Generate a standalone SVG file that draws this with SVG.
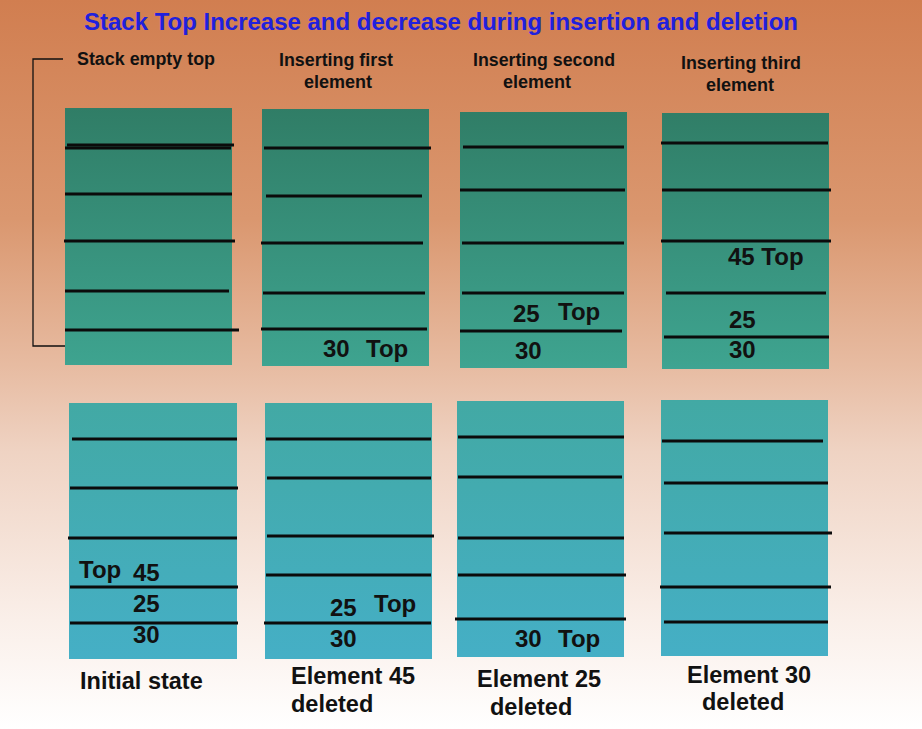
<svg xmlns="http://www.w3.org/2000/svg" width="922" height="729" viewBox="0 0 922 729">
<defs>
<linearGradient id="bg" x1="0" y1="0" x2="0" y2="729" gradientUnits="userSpaceOnUse">
<stop offset="0" stop-color="#D17E50"/>
<stop offset="0.3" stop-color="#DA976F"/>
<stop offset="0.5" stop-color="#E7BBA1"/>
<stop offset="0.62" stop-color="#EFD3C3"/>
<stop offset="0.85" stop-color="#FAEFE9"/>
<stop offset="1" stop-color="#FFFFFF"/>
</linearGradient>
<linearGradient id="box" x1="0" y1="108" x2="0" y2="660" gradientUnits="userSpaceOnUse">
<stop offset="0" stop-color="#307D66"/>
<stop offset="0.46" stop-color="#3EA38F"/>
<stop offset="0.53" stop-color="#42A9A4"/>
<stop offset="1" stop-color="#45AFC6"/>
</linearGradient>
</defs>
<style>
.bx{fill:url(#box)}
.ln{stroke:#0b0b0b;stroke-width:3;fill:none}
.num{font-family:"Liberation Sans",Arial,sans-serif;font-weight:bold;font-size:24px;fill:#111}
.hd{font-family:"Liberation Sans",Arial,sans-serif;font-weight:bold;font-size:17.5px;fill:#111}
.lb{font-family:"Liberation Sans",Arial,sans-serif;font-weight:bold;font-size:23.5px;fill:#111}
.br{stroke:#111;stroke-width:1.3;fill:none}
</style>
<rect x="0" y="0" width="922" height="729" fill="url(#bg)"/>
<text x="84" y="30" font-family="'Liberation Sans',Arial,sans-serif" font-weight="bold" font-size="23.5" fill="#2020DD" textLength="714" lengthAdjust="spacingAndGlyphs">Stack Top Increase and decrease during insertion and deletion</text>
<g id="headings">
<text class="hd" x="77" y="65" textLength="138" lengthAdjust="spacingAndGlyphs">Stack empty top</text>
<text class="hd" x="279" y="66" textLength="114" lengthAdjust="spacingAndGlyphs">Inserting first</text>
<text class="hd" x="304" y="88" textLength="68" lengthAdjust="spacingAndGlyphs">element</text>
<text class="hd" x="473" y="66" textLength="142" lengthAdjust="spacingAndGlyphs">Inserting second</text>
<text class="hd" x="503" y="88" textLength="68" lengthAdjust="spacingAndGlyphs">element</text>
<text class="hd" x="681" y="69" textLength="120" lengthAdjust="spacingAndGlyphs">Inserting third</text>
<text class="hd" x="706" y="91" textLength="68" lengthAdjust="spacingAndGlyphs">element</text>
</g>
<g id="connectors">
<path class="br" d="M63,59 H33 V346 H70"/>
</g>
<g id="stack1">
<rect class="bx" x="65" y="108" width="167" height="257"/>
<line class="ln" x1="67" y1="145" x2="234" y2="145"/>
<line class="ln" x1="65" y1="148" x2="231" y2="148"/>
<line class="ln" x1="65" y1="194" x2="232" y2="194"/>
<line class="ln" x1="64" y1="241" x2="235" y2="241"/>
<line class="ln" x1="65" y1="291" x2="229" y2="291"/>
<line class="ln" x1="65" y1="330" x2="239" y2="330"/>
</g>
<g id="stack2">
<rect class="bx" x="262" y="109" width="167" height="257"/>
<line class="ln" x1="264" y1="148" x2="431" y2="148"/>
<line class="ln" x1="266" y1="196" x2="422" y2="196"/>
<line class="ln" x1="261" y1="243" x2="423" y2="243"/>
<line class="ln" x1="263" y1="293" x2="425" y2="293"/>
<line class="ln" x1="261" y1="329" x2="427" y2="329"/>
<text class="num" x="323" y="357">30</text>
<text class="num" x="366" y="357">Top</text>
</g>
<g id="stack3">
<rect class="bx" x="460" y="112" width="167" height="256"/>
<line class="ln" x1="463" y1="147" x2="624" y2="147"/>
<line class="ln" x1="460" y1="190" x2="625" y2="190"/>
<line class="ln" x1="462" y1="243" x2="624" y2="243"/>
<line class="ln" x1="462" y1="293" x2="624" y2="293"/>
<line class="ln" x1="460" y1="331" x2="622" y2="331"/>
<text class="num" x="513" y="322">25</text>
<text class="num" x="558" y="320">Top</text>
<text class="num" x="515" y="359">30</text>
</g>
<g id="stack4">
<rect class="bx" x="662" y="113" width="167" height="256"/>
<line class="ln" x1="661" y1="143" x2="828" y2="143"/>
<line class="ln" x1="662" y1="190" x2="831" y2="190"/>
<line class="ln" x1="661" y1="241" x2="831" y2="241"/>
<line class="ln" x1="666" y1="293" x2="826" y2="293"/>
<line class="ln" x1="664" y1="337" x2="829" y2="337"/>
<text class="num" x="728" y="265">45 Top</text>
<text class="num" x="729" y="328">25</text>
<text class="num" x="729" y="358">30</text>
</g>
<g id="stack5">
<rect class="bx" x="69" y="403" width="168" height="256"/>
<line class="ln" x1="72" y1="439" x2="237" y2="439"/>
<line class="ln" x1="70" y1="488" x2="238" y2="488"/>
<line class="ln" x1="68" y1="538" x2="237" y2="538"/>
<line class="ln" x1="70" y1="587" x2="238" y2="587"/>
<line class="ln" x1="70" y1="623" x2="238" y2="623"/>
<text class="num" x="79" y="578">Top</text>
<text class="num" x="133" y="581">45</text>
<text class="num" x="133" y="612">25</text>
<text class="num" x="133" y="643">30</text>
<text class="lb" x="80" y="689">Initial state</text>
</g>
<g id="stack6">
<rect class="bx" x="265" y="403" width="167" height="256"/>
<line class="ln" x1="266" y1="439" x2="431" y2="439"/>
<line class="ln" x1="267" y1="478" x2="431" y2="478"/>
<line class="ln" x1="267" y1="536" x2="434" y2="536"/>
<line class="ln" x1="266" y1="575" x2="431" y2="575"/>
<line class="ln" x1="264" y1="623" x2="431" y2="623"/>
<text class="num" x="330" y="616">25</text>
<text class="num" x="374" y="612">Top</text>
<text class="num" x="330" y="647">30</text>
<text class="lb" x="291" y="684">Element 45</text>
<text class="lb" x="291" y="712">deleted</text>
</g>
<g id="stack7">
<rect class="bx" x="457" y="401" width="167" height="256"/>
<line class="ln" x1="458" y1="437" x2="624" y2="437"/>
<line class="ln" x1="458" y1="477" x2="622" y2="477"/>
<line class="ln" x1="458" y1="538" x2="624" y2="538"/>
<line class="ln" x1="458" y1="575" x2="626" y2="575"/>
<line class="ln" x1="455" y1="619" x2="626" y2="619"/>
<text class="num" x="515" y="647">30</text>
<text class="num" x="558" y="647">Top</text>
<text class="lb" x="477" y="687">Element 25</text>
<text class="lb" x="490" y="715">deleted</text>
</g>
<g id="stack8">
<rect class="bx" x="661" y="400" width="167" height="256"/>
<line class="ln" x1="662" y1="441" x2="823" y2="441"/>
<line class="ln" x1="664" y1="483" x2="828" y2="483"/>
<line class="ln" x1="664" y1="533" x2="832" y2="533"/>
<line class="ln" x1="660" y1="587" x2="831" y2="587"/>
<line class="ln" x1="664" y1="622" x2="828" y2="622"/>
<text class="lb" x="687" y="683">Element 30</text>
<text class="lb" x="702" y="710">deleted</text>
</g>
</svg>
